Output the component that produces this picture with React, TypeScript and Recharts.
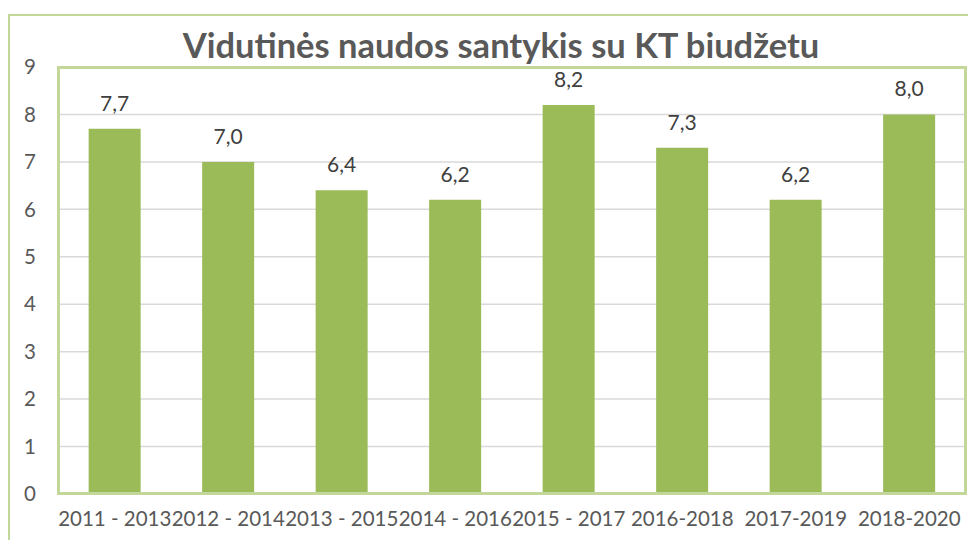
import { BarChart, Bar, XAxis, YAxis, CartesianGrid, LabelList } from 'recharts';

const periods = ['2011 - 2013', '2012 - 2014', '2013 - 2015', '2014 - 2016', '2015 - 2017', '2016-2018', '2017-2019', '2018-2020'];
const ratios = [7.7, 7.0, 6.4, 6.2, 8.2, 7.3, 6.2, 8.0];
const yTicks = [0, 1, 2, 3, 4, 5, 6, 7, 8, 9];

const chartData = periods.map((period, i) => ({ period, ratio: ratios[i] }));

const FONT = 'Lato, "Open Sans", sans-serif';
const GREEN_BORDER = '#c4d79b';

// plot area box, matches the chart margins below
const PLOT = { left: 58, top: 67, right: 966, bottom: 494 };

export default function App() {
  return (
    <div style={{ position: 'absolute', left: 0, top: 0, width: 968, height: 540, background: '#fff', overflow: 'hidden', fontFamily: FONT }}>
      <div style={{ position: 'absolute', left: 8, top: 14, width: 1000, height: 600, border: `2px solid ${GREEN_BORDER}`, boxSizing: 'border-box' }} />
      <div
        style={{
          position: 'absolute',
          left: 0,
          top: 23,
          width: 1002,
          lineHeight: '44px',
          textAlign: 'center',
          fontWeight: 700,
          fontSize: 34.5,
          color: '#595959',
        }}
      >
        Vidutinės naudos santykis su KT biudžetu
      </div>
      <div style={{ position: 'absolute', left: 0, top: 0 }}>
        <BarChart
          width={968}
          height={540}
          data={chartData}
          margin={{ top: PLOT.top, right: 968 - PLOT.right, bottom: 16, left: 8 }}
          barCategoryGap="27%"
        >
          <CartesianGrid vertical={false} stroke="#d9d9d9" strokeWidth={1.5} />
          <XAxis
            dataKey="period"
            interval={0}
            tickLine={false}
            axisLine={false}
            tickSize={0}
            tickMargin={17}
            height={30}
            tick={{ fill: '#595959', fontSize: 20.5, fontFamily: FONT }}
          />
          <YAxis
            domain={[0, 9]}
            ticks={yTicks}
            width={50}
            tickLine={false}
            axisLine={false}
            tickSize={0}
            tickMargin={22}
            tick={{ fill: '#595959', fontSize: 20.5, fontFamily: FONT }}
          />
          <Bar dataKey="ratio" fill="#9bbb59" isAnimationActive={false}>
            <LabelList
              dataKey="ratio"
              position="top"
              offset={18}
              formatter={(v: number) => v.toFixed(1).replace('.', ',')}
              style={{ fill: '#404040', fontSize: 21, fontFamily: FONT }}
            />
          </Bar>
        </BarChart>
      </div>
      <div
        style={{
          position: 'absolute',
          left: PLOT.left - 1,
          top: PLOT.top - 1,
          width: PLOT.right - PLOT.left + 2,
          height: PLOT.bottom - PLOT.top + 2,
          border: `3px solid ${GREEN_BORDER}`,
          boxSizing: 'border-box',
          pointerEvents: 'none',
        }}
      />
    </div>
  );
}
